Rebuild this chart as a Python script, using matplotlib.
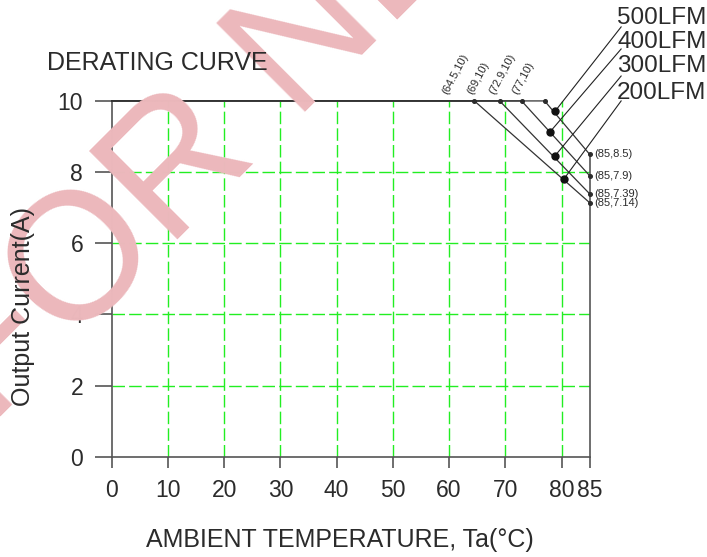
import numpy as np
import matplotlib.pyplot as plt

plt.rcParams['font.family'] = ['Liberation Sans', 'DejaVu Sans']

# derating curves: flat at 10 A until the knee, then straight down to 85 C
airflow = ["500LFM", "400LFM", "300LFM", "200LFM"]
knee_t = [77, 72.9, 69, 64.5]
knee_i = [10, 10, 10, 10]
end_t = [85, 85, 85, 85]
end_i = [8.5, 7.9, 7.39, 7.14]
knee_txt = ["(77,10)", "(72.9,10)", "(69,10)", "(64.5,10)"]
end_txt = ["(85,8.5)", "(85,7.9)", "(85,7.39)", "(85,7.14)"]

# where the leader dots sit on each curve
dot_t = [78.9, 77.9, 78.8, 80.4]
dot_i = [9.72, 9.12, 8.45, 7.80]
# leader line ends / label anchors (outside the axes, data units)
lead_t = [90.6, 90.6, 90.6, 90.6]
lead_i = [12.08, 11.46, 10.70, 10.0]
lab_t = [89.9, 89.9, 89.9, 89.9]
lab_i = [12.16, 11.50, 10.80, 10.05]

xticks = [0, 10, 20, 30, 40, 50, 60, 70, 80, 85]
yticks = [0, 2, 4, 6, 8, 10]

ink = '#2b2b2b'
green = '#22ee22'

fig = plt.figure(figsize=(7.07, 5.57), dpi=100)
ax = fig.add_axes([0.158, 0.180, 0.676, 0.6388])
ax.set_xlim(0, 85)
ax.set_ylim(0, 10)

# watermark behind everything
fig.text(-0.014, 0.235, "FOR NEW", fontsize=130, color='#ecb8bc',
         rotation=45, rotation_mode='anchor', ha='left', va='baseline', zorder=0)
ax.patch.set_alpha(0)

# dashed green grid
for t in xticks[1:-1]:
    ax.plot([t, t], [0, 10], color=green, lw=1.0, dashes=(9, 3), zorder=1)
for i in yticks[1:-1]:
    ax.plot([0, 85], [i, i], color=green, lw=1.0, dashes=(9, 3), zorder=1)

for k in range(4):
    ax.plot([0, knee_t[k], end_t[k]], [knee_i[k], knee_i[k], end_i[k]],
            color='#333333', lw=0.9, clip_on=False, zorder=3)
    ax.plot([knee_t[k], end_t[k]], [knee_i[k], end_i[k]], 'o', color=ink,
            ms=2.6, clip_on=False, zorder=4)
    ax.annotate(knee_txt[k], (knee_t[k], knee_i[k]), xytext=(-25, 5),
                textcoords='offset pixels', fontsize=8, rotation=62,
                rotation_mode='anchor', ha='left', va='bottom', color=ink)
    ax.annotate(end_txt[k], (end_t[k], end_i[k]), xytext=(5, 0),
                textcoords='offset pixels', fontsize=8, ha='left', va='center',
                color=ink)
    ax.plot([dot_t[k], lead_t[k]], [dot_i[k], lead_i[k]], color='#222222',
            lw=0.8, clip_on=False, zorder=3)
    ax.plot(dot_t[k], dot_i[k], 'o', color='#111111', ms=5, clip_on=False, zorder=5)
    ax.text(lab_t[k], lab_i[k], airflow[k], fontsize=17.5, ha='left',
            va='baseline', color=ink, clip_on=False)

for s in ['top']:
    ax.spines[s].set_visible(False)
for s in ['left', 'bottom', 'right']:
    ax.spines[s].set_color('#555555')
    ax.spines[s].set_linewidth(1.2)
ax.spines['right'].set_bounds(0, 8.5)

ax.set_xticks(xticks)
ax.set_xticklabels([str(t) for t in xticks])
ax.set_yticks(yticks)
ax.set_yticklabels([str(t) for t in yticks])
ax.tick_params(axis='x', direction='out', length=8, width=1.2, color='#555555',
               pad=8, labelsize=16.5, labelcolor=ink)
ax.tick_params(axis='y', direction='out', length=12, width=1.2, color='#555555',
               pad=8.5, labelsize=16.5, labelcolor=ink)

fig.text(0.0665, 0.874, "DERATING CURVE", fontsize=18, ha='left', va='baseline', color=ink)
fig.text(0.0325, 0.449, "Output Current(A)", fontsize=18, rotation=90,
         ha='center', va='center', color=ink)
fig.text(0.481, 0.018, "AMBIENT TEMPERATURE, Ta(°C)", fontsize=18,
         ha='center', va='baseline', color=ink)

fig.savefig("out.png", dpi=100)
